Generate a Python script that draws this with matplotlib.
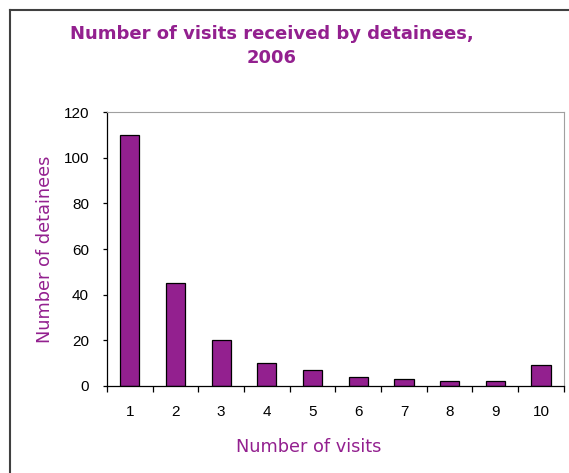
import matplotlib
matplotlib.use("Agg")
import matplotlib.pyplot as plt
from matplotlib.lines import Line2D

# data
visitas = [1, 2, 3, 4, 5, 6, 7, 8, 9, 10]
detenidos = [110, 45, 20, 10, 7, 4, 3, 2, 2, 9]
etiquetas_x = [str(v) for v in visitas]
ticks_y = [0, 20, 40, 60, 80, 100, 120]

morado = "#93208F"
plt.rcParams["font.family"] = ["DejaVu Sans"]

fig = plt.figure(figsize=(5.69, 4.73), dpi=100)
ax = fig.add_axes([0.188, 0.184, 0.803, 0.579])

ax.bar(visitas, detenidos, width=0.42, color=morado, edgecolor="black", linewidth=0.9)

ax.set_xlim(0.5, 10.5)
ax.set_ylim(0, 120)
ax.set_yticks(ticks_y)
ax.set_xticks(visitas)
ax.set_xticklabels(etiquetas_x)
ax.set_xticks([v + 0.5 for v in [0] + visitas], minor=True)

ax.tick_params(axis="x", which="major", length=0, pad=14)
ax.tick_params(axis="x", which="minor", length=4, width=0.9, direction="out")
ax.tick_params(axis="y", length=3, width=0.9, direction="out", pad=10)
for lbl in ax.get_xticklabels() + ax.get_yticklabels():
    lbl.set_family("Liberation Sans")
    lbl.set_fontsize(11)

ax.spines["top"].set_color("#a0a0a0")
ax.spines["right"].set_color("#a0a0a0")
ax.spines["left"].set_linewidth(0.9)
ax.spines["bottom"].set_linewidth(0.9)

ax.set_xlabel("Number of visits", color=morado, fontsize=12.8, labelpad=14)
ax.xaxis.set_label_coords(0.442, -0.19)
ax.set_ylabel("Number of detainees", color=morado, fontsize=12.8, labelpad=7)

fig.text(0.477, 1 - 46 / 473, "Number of visits received by detainees,\n2006",
         ha="center", va="center", color=morado, fontsize=13, fontweight="bold",
         linespacing=1.45)

# marco exterior (solo izquierda y arriba visibles)
fig.add_artist(Line2D([9.5 / 569, 9.5 / 569], [0, 1 - 10 / 473],
                      transform=fig.transFigure, color="#404040", linewidth=1.5))
fig.add_artist(Line2D([9.5 / 569, 1], [1 - 10 / 473, 1 - 10 / 473],
                      transform=fig.transFigure, color="#404040", linewidth=1.5))

fig.savefig("out.png", dpi=100)
